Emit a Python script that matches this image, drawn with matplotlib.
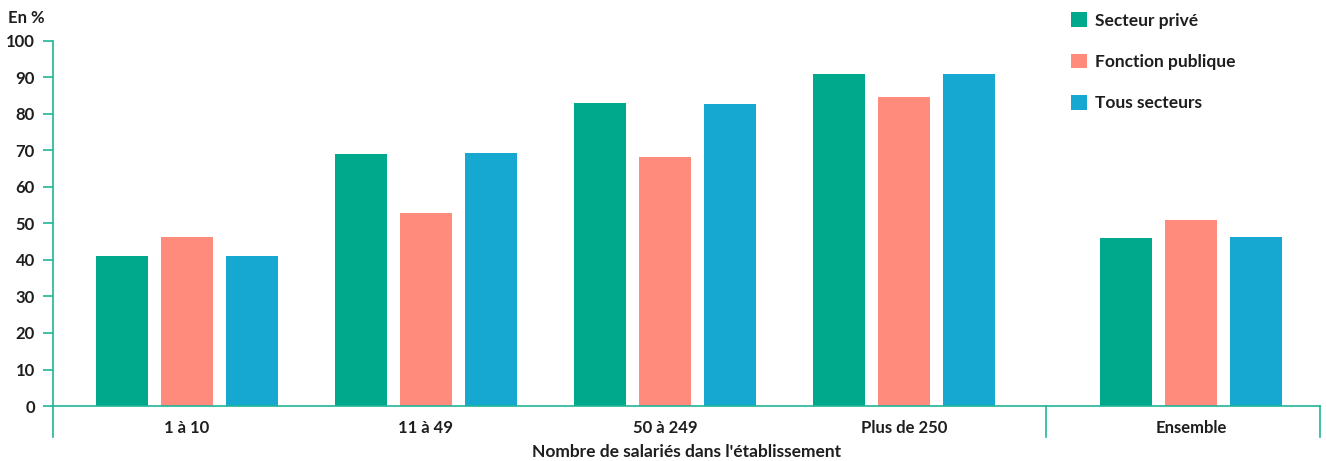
import numpy as np
import matplotlib.pyplot as plt

plt.rcParams['font.family'] = ['Lato', 'DejaVu Sans']

categories = ["1 à 10", "11 à 49", "50 à 249", "Plus de 250", "Ensemble"]
series_names = ["Secteur privé", "Fonction publique", "Tous secteurs"]
prive = [41.0, 69.0, 83.0, 91.0, 46.0]
publique = [46.3, 52.9, 68.2, 84.7, 51.0]
tous = [41.0, 69.3, 82.7, 91.0, 46.3]
yticks = [0, 10, 20, 30, 40, 50, 60, 70, 80, 90, 100]

colors = ["#00a98b", "#ff8b7d", "#17a8d2"]
axis_col = "#1fb596"
text_col = "#1e1e1e"

x = np.array([0, 1, 2, 3, 4.2])
width = 0.218
offs = 0.272

fig = plt.figure(figsize=(13.26, 4.61), dpi=100)
ax = fig.add_axes([0.04, 0.1193, 0.9555, 0.7918])

for i, (vals, name) in enumerate(zip([prive, publique, tous], series_names)):
    ax.bar(x + (i - 1) * offs, vals, width, color=colors[i], label=name, zorder=2)

ax.set_xlim(-0.56, 4.74)
ax.set_ylim(0, 100)
ax.set_yticks(yticks)
ax.set_yticklabels([str(t) for t in yticks], fontsize=12, fontweight='bold', color=text_col)
ax.tick_params(axis='y', length=7, color=axis_col, width=1.2, pad=6)
ax.set_xticks(x)
ax.set_xticklabels(categories, fontsize=12, fontweight='bold', color=text_col)
ax.tick_params(axis='x', length=0, pad=10)

for s in ['top', 'right']:
    ax.spines[s].set_visible(False)
ax.spines['left'].set_color(axis_col)
ax.spines['bottom'].set_color(axis_col)
ax.spines['left'].set_linewidth(1.2)
ax.spines['bottom'].set_linewidth(1.2)

# group separators below the axis
for xs in [-0.56, 3.594, 4.74]:
    ax.plot([xs, xs], [0, -8.5], color=axis_col, lw=1.2, clip_on=False)

ax.set_xlabel("Nombre de salariés dans l'établissement", fontsize=12.5,
              fontweight='bold', color=text_col, labelpad=6)

fig.text(0.006, 0.962, "En %", fontsize=12, fontweight='bold', color=text_col,
         va='center', ha='left')

leg = fig.legend(loc='upper left', bbox_to_anchor=(0.796, 1.007), frameon=False,
                 fontsize=12.5, handlelength=0.9, handleheight=0.9,
                 labelspacing=1.45, handletextpad=0.5)
for t in leg.get_texts():
    t.set_fontweight('bold')
    t.set_color(text_col)

fig.savefig("out.png", dpi=100)
